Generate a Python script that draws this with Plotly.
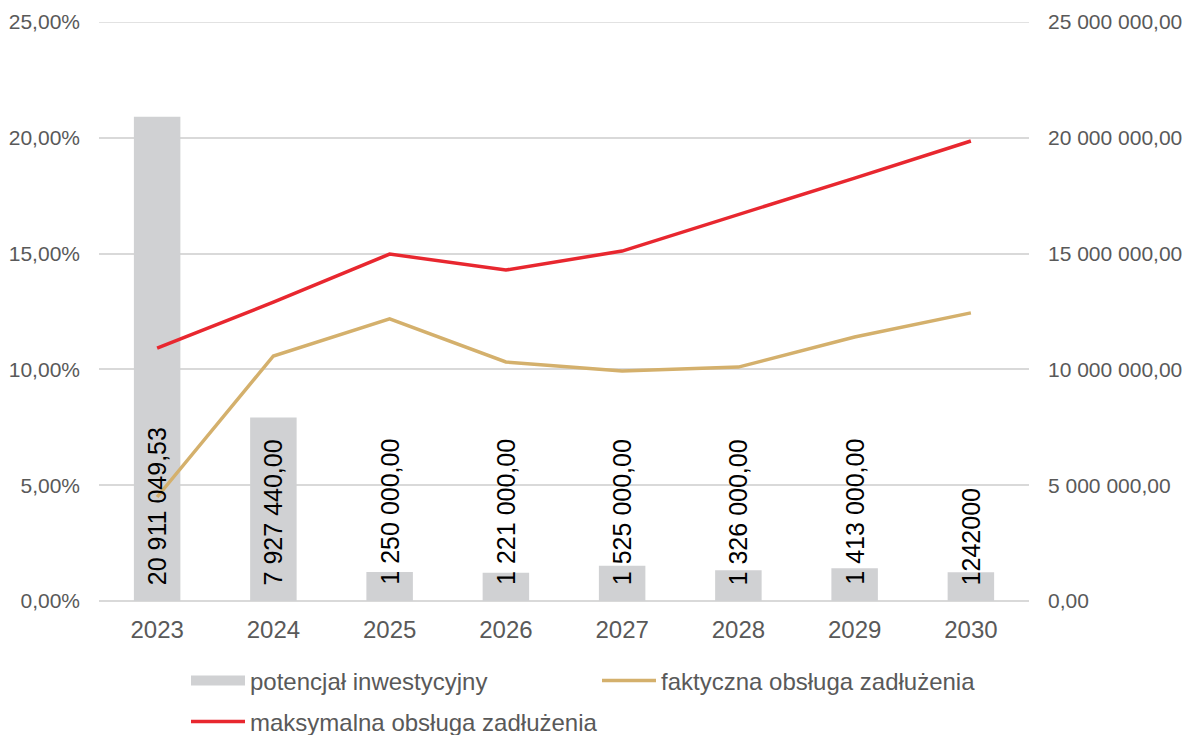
import plotly.graph_objects as go

years = [2023, 2024, 2025, 2026, 2027, 2028, 2029, 2030]
potencjal = [20911049.53, 7927440, 1250000, 1221000, 1525000, 1326000, 1413000, 1242000]
potencjal_labels = ["20 911 049,53", "7 927 440,00", "1 250 000,00", "1 221 000,00",
                    "1 525 000,00", "1 326 000,00", "1 413 000,00", "1242000"]
faktyczna = [0.0449, 0.1058, 0.1218, 0.1032, 0.0993, 0.1010, 0.1140, 0.1244]
maksymalna = [0.1092, 0.1290, 0.1498, 0.1429, 0.1511, 0.1667, 0.1826, 0.1986]
money_ticks = [0, 5000000, 10000000, 15000000, 20000000, 25000000]
pct_ticks = [0, 0.05, 0.10, 0.15, 0.20, 0.25]

FONT = "Liberation Sans, Arial, sans-serif"
TICK_COLOR = "#595959"
BAR_COLOR = "#D0D1D3"
GOLD = "#D4B06C"
RED = "#E8272F"
GRID = "#D9D9D9"

fig = go.Figure()
fig.add_trace(go.Bar(
    x=years, y=potencjal, name="potencjał inwestycyjny",
    marker=dict(color=BAR_COLOR, line=dict(width=0)),
    width=0.4, yaxis="y", showlegend=False,
))
# legend entry drawn as wide grey swatch (Excel-style)
fig.add_trace(go.Scatter(
    x=[None], y=[None], name="potencjał inwestycyjny", mode="lines",
    line=dict(color=BAR_COLOR, width=13), yaxis="y", legend="legend",
))
fig.add_trace(go.Scatter(
    x=years, y=faktyczna, name="faktyczna obsługa zadłużenia",
    mode="lines", line=dict(color=GOLD, width=3.5), yaxis="y2", legend="legend",
))
fig.add_trace(go.Scatter(
    x=years, y=maksymalna, name="maksymalna obsługa zadłużenia",
    mode="lines", line=dict(color=RED, width=3.5), yaxis="y2", legend="legend2",
))

for yr, lab in zip(years, potencjal_labels):
    fig.add_annotation(
        x=yr, y=0, xref="x", yref="y", text=lab, textangle=-90,
        showarrow=False, yanchor="bottom", xanchor="center", yshift=14,
        font=dict(family=FONT, size=25, color="#000000"),
    )

# top gridline (plotly omits gridlines lying on the plot edge)
fig.add_shape(type="line", xref="paper", x0=0, x1=1, yref="y",
              y0=money_ticks[-1], y1=money_ticks[-1],
              line=dict(color=GRID, width=1.5), layer="below")

legend_common = dict(
    orientation="h", xanchor="left", yanchor="middle",
    xref="container", yref="container",
    itemwidth=54, traceorder="normal",
    font=dict(family=FONT, size=24, color=TICK_COLOR),
    bgcolor="rgba(0,0,0,0)",
)

fig.update_layout(
    width=1193, height=735,
    margin=dict(l=99, r=164, t=22, b=134, autoexpand=False),
    paper_bgcolor="white", plot_bgcolor="white",
    separators=", ",
    font=dict(family=FONT, size=21, color=TICK_COLOR),
    showlegend=True,
    legend=dict(x=186 / 1193, y=1 - 681 / 735, entrywidth=342, **legend_common),
    legend2=dict(x=186 / 1193, y=1 - 722 / 735, **legend_common),
    xaxis=dict(
        range=[2022.5, 2030.5], tickvals=years, tickformat="d",
        showgrid=False, zeroline=False, automargin=False,
        showline=False, ticks="", ticklabelstandoff=12,
        tickfont=dict(family=FONT, size=24, color=TICK_COLOR),
    ),
    yaxis=dict(
        side="right", range=[0, 25000000], tickvals=money_ticks,
        tickformat=",.2f", showgrid=True, gridcolor=GRID, gridwidth=1.5,
        zeroline=True, zerolinecolor=GRID, zerolinewidth=1.5,
        showline=False, ticks="", ticklabelstandoff=18, automargin=False,
        tickfont=dict(family=FONT, size=21, color=TICK_COLOR),
    ),
    yaxis2=dict(
        overlaying="y", side="left", range=[0, 0.25], tickvals=pct_ticks,
        tickformat=".2%", showgrid=False, zeroline=False, showline=False,
        ticks="", ticklabelstandoff=18, automargin=False,
        tickfont=dict(family=FONT, size=21, color=TICK_COLOR),
    ),
)

fig.write_html("out.html", config={"displayModeBar": False},
               post_script="document.body.style.margin='0';")
